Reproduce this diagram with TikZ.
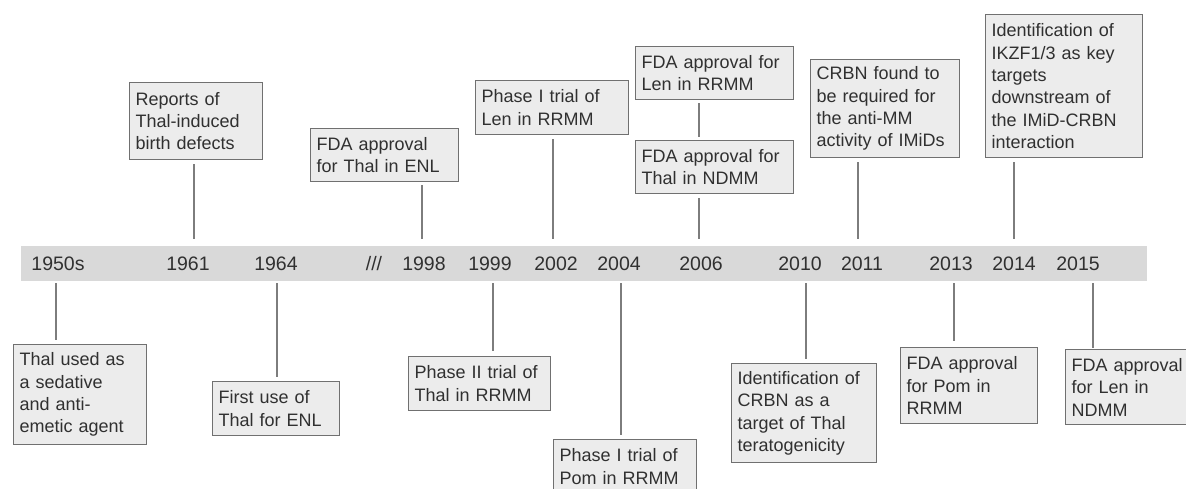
\documentclass[tikz,border=0pt]{standalone}
\usepackage{fontspec}
\setmainfont{Liberation Sans}
\usepackage{tikz}

\newcommand{\evtfont}{\fontsize{18}{22.3}\selectfont}
\newcommand{\yrfont}{\fontsize{19.5}{24}\selectfont}
\definecolor{barfill}{RGB}{217,217,217}
\definecolor{boxfill}{RGB}{236,236,236}
\definecolor{boxline}{RGB}{112,112,112}
\definecolor{tickline}{RGB}{125,125,125}
\definecolor{evtext}{RGB}{48,48,48}

\begin{document}
\begin{tikzpicture}[x=1pt, y=-1pt,
  event/.style={draw=boxline, fill=boxfill, line width=1.4pt, anchor=north west, align=left, inner xsep=6pt, inner ysep=0pt, text=evtext, font=\evtfont},
  year/.style={text=evtext, font=\yrfont, inner sep=0pt},
  tick/.style={draw=tickline, line width=1.4pt}]
\useasboundingbox (0,0) rectangle (1186,489);

% timeline bar
\node (bar) at (21,246) [anchor=north west, fill=barfill, minimum width=1126pt, minimum height=35pt, inner sep=0pt]{};

\node (y1950) at (58,264) [year]{1950s};
\node (y1961) at (188,264) [year]{1961};
\node (y1964) at (276,264) [year]{1964};
\node (ygap) at (374,264) [year]{///};
\node (y1998) at (424,264) [year]{1998};
\node (y1999) at (490,264) [year]{1999};
\node (y2002) at (556,264) [year]{2002};
\node (y2004) at (619,264) [year]{2004};
\node (y2006) at (701,264) [year]{2006};
\node (y2010) at (800,264) [year]{2010};
\node (y2011) at (862,264) [year]{2011};
\node (y2013) at (951,264) [year]{2013};
\node (y2014) at (1014,264) [year]{2014};
\node (y2015) at (1078,264) [year]{2015};

% events above the bar
\node (rep) at (129,82) [event, text width=121pt, minimum height=77pt]{Reports of\\Thal-induced\\birth defects};
\node (enl) at (310,128) [event, text width=136pt, minimum height=53pt]{FDA approval\\for Thal in ENL};
\node (lenI) at (475,80) [event, text width=141pt, minimum height=54pt]{Phase I trial of\\Len in RRMM};
\node (lenrr) at (635,46) [event, text width=146pt, minimum height=53pt]{FDA approval for\\Len in RRMM};
\node (thalnd) at (635,140) [event, text width=146pt, minimum height=53pt]{FDA approval for\\Thal in NDMM};
\node (crbnreq) at (810,59) [event, text width=137pt, minimum height=98pt]{CRBN found to\\be required for\\the anti-MM\\activity of IMiDs};
\node (ikzf) at (985,14) [event, text width=145pt, minimum height=143pt]{Identification of\\IKZF1/3 as key\\targets\\downstream of\\the IMiD-CRBN\\interaction};

% events below the bar
\node (sed) at (13,344) [event, text width=121pt, minimum height=100pt]{Thal used as\\a sedative\\and anti-\\emetic agent};
\node (first) at (212,381) [event, text width=115pt, minimum height=54pt]{First use of\\Thal for ENL};
\node (thalII) at (408,356) [event, text width=130pt, minimum height=54pt]{Phase II trial of\\Thal in RRMM};
\node (pomI) at (553,439) [event, text width=131pt, minimum height=54pt]{Phase I trial of\\Pom in RRMM};
\node (crbnid) at (731,363) [event, text width=133pt, minimum height=99pt]{Identification of\\CRBN as a\\target of Thal\\teratogenicity};
\node (pomrr) at (900,347) [event, text width=125pt, minimum height=76pt]{FDA approval\\for Pom in\\RRMM};
\node (lennd) at (1065,349) [event, text width=123pt, minimum height=75pt]{FDA approval\\for Len in\\NDMM};

% tick ends next to the bar
\coordinate (t1961) at (194,239);
\coordinate (t1998) at (422,239);
\coordinate (t2002) at (553,239);
\coordinate (t2006) at (699,239);
\coordinate (t2011) at (858,239);
\coordinate (t2014) at (1014,239);
\coordinate (b1950) at (56,283);
\coordinate (b1964) at (277,283);
\coordinate (b1999) at (493,283);
\coordinate (b2004) at (621,283);
\coordinate (b2010) at (806,283);
\coordinate (b2013) at (954,283);
\coordinate (b2015) at (1093,283);

\draw[tick, shorten <=4pt] (rep.south -| t1961)--(t1961);
\draw[tick, shorten <=3pt] (enl.south -| t1998)--(t1998);
\draw[tick, shorten <=4pt] (lenI.south -| t2002)--(t2002);
\draw[tick, shorten <=3pt, shorten >=3pt] (lenrr.south -| t2006)--(thalnd.north -| t2006);
\draw[tick, shorten <=4pt] (thalnd.south -| t2006)--(t2006);
\draw[tick, shorten <=4pt] (crbnreq.south -| t2011)--(t2011);
\draw[tick, shorten <=4pt] (ikzf.south -| t2014)--(t2014);

\draw[tick, shorten >=4pt] (b1950)--(b1950 |- sed.north);
\draw[tick, shorten >=4pt] (b1964)--(b1964 |- first.north);
\draw[tick, shorten >=5pt] (b1999)--(b1999 |- thalII.north);
\draw[tick, shorten >=4pt] (b2004)--(b2004 |- pomI.north);
\draw[tick, shorten >=4pt] (b2010)--(b2010 |- crbnid.north);
\draw[tick, shorten >=6pt] (b2013)--(b2013 |- pomrr.north);
\draw[tick, shorten >=1pt] (b2015)--(b2015 |- lennd.north);
\end{tikzpicture}
\end{document}
